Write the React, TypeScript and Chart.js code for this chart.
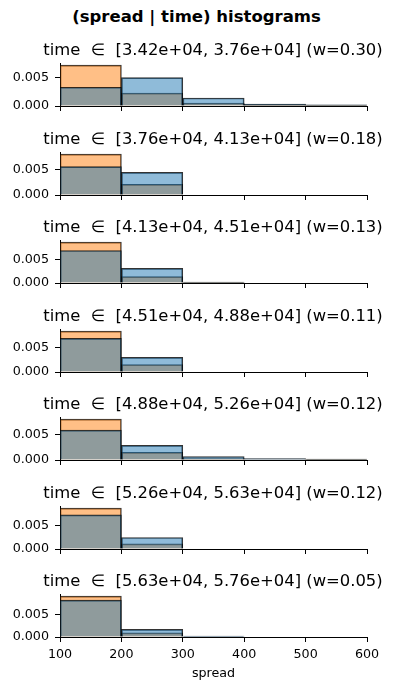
import React, { useEffect, useRef } from "react";
import { Chart, registerables } from "chart.js";

Chart.register(...registerables);
Chart.defaults.font.family = "DejaVu Sans";
Chart.defaults.color = "#000";

// ---- data ----
const binCenters = [150, 250, 350, 450, 550];
const xTicks = [100, 200, 300, 400, 500, 600];
const yTicks = [0, 0.005];
const panelTitles = [
  "time  \u2208  [3.42e+04, 3.76e+04] (w=0.30)",
  "time  \u2208  [3.76e+04, 4.13e+04] (w=0.18)",
  "time  \u2208  [4.13e+04, 4.51e+04] (w=0.13)",
  "time  \u2208  [4.51e+04, 4.88e+04] (w=0.11)",
  "time  \u2208  [4.88e+04, 5.26e+04] (w=0.12)",
  "time  \u2208  [5.26e+04, 5.63e+04] (w=0.12)",
  "time  \u2208  [5.63e+04, 5.76e+04] (w=0.05)",
];
const blueDensity = [
  [0.0033, 0.005, 0.0014, 0.00035, 0.0002],
  [0.0055, 0.0044, 0, 0, 0],
  [0.0069, 0.0031, 0.0002, 0, 0],
  [0.0069, 0.003, 0, 0, 0],
  [0.0059, 0.0029, 0.0007, 0.0003, 0.0002],
  [0.0074, 0.0025, 0, 0, 0],
  [0.0082, 0.0017, 0.0002, 0, 0],
];
const orangeDensity = [
  [0.0072, 0.00225, 0.0005, 0.00012, 0.00005],
  [0.00795, 0.00205, 0, 0, 0],
  [0.0087, 0.00135, 0.00005, 0, 0],
  [0.0084, 0.0015, 0, 0, 0],
  [0.0081, 0.0015, 0.0003, 0.0001, 0.00005],
  [0.0089, 0.0011, 0, 0, 0],
  [0.0091, 0.0009, 0, 0, 0],
];
const suptitle = "(spread | time) histograms";
const xLabel = "spread";

// ---- layout ----
const W = 393;
const AX_H = 43;
const TITLE_SPACE = 32;
const firstBottom = 106;
const step = 88.5;
const TICK_FONT = 12.7;

const panelTitlePlugin = {
  id: "panelTitle",
  afterDraw(chart: any, _args: any, opts: any) {
    const { ctx, chartArea } = chart;
    ctx.save();
    ctx.font = "16.4px 'DejaVu Sans'";
    ctx.fillStyle = "#000";
    ctx.textAlign = "center";
    ctx.textBaseline = "alphabetic";
    ctx.fillText(opts.text, (chartArea.left + chartArea.right) / 2 - 0.5, chartArea.top - 8);
    ctx.restore();
  },
};

function Panel({ index }: { index: number }) {
  const ref = useRef<HTMLCanvasElement>(null);
  const isLast = index === panelTitles.length - 1;
  const bottom = Math.round(firstBottom + step * index);
  const top = bottom - AX_H;
  const xh = isLast ? 48 : 6;
  const extra = isLast ? 0 : 8;
  const canvasTop = top - TITLE_SPACE;
  const H = TITLE_SPACE + AX_H + xh + extra;

  useEffect(() => {
    if (!ref.current) return;
    const blue = blueDensity[index];
    const orange = orangeDensity[index];
    const maxV = Math.max(...blue, ...orange);
    const barStyle = {
      borderColor: "rgba(0,0,0,0.8)",
      borderWidth: 1,
      borderSkipped: "start",
      grouped: false,
      barPercentage: 1,
      categoryPercentage: 1,
    };
    const chart = new Chart(ref.current, {
      type: "bar",
      data: {
        datasets: [
          {
            label: "blue",
            data: binCenters.map((x, j) => ({ x, y: blue[j] })),
            backgroundColor: "rgba(31,119,180,0.5)",
            ...barStyle,
          } as any,
          {
            label: "orange",
            data: binCenters.map((x, j) => ({ x, y: orange[j] })),
            backgroundColor: "rgba(255,127,14,0.5)",
            ...barStyle,
          } as any,
        ],
      },
      options: {
        animation: false,
        responsive: false,
        maintainAspectRatio: false,
        devicePixelRatio: 1,
        layout: { padding: { top: TITLE_SPACE, left: 0, right: 26, bottom: extra } },
        plugins: {
          legend: { display: false },
          tooltip: { enabled: false },
          title: { display: false },
          panelTitle: { text: panelTitles[index] },
        } as any,
        scales: {
          x: {
            type: "linear",
            min: 100,
            max: 600,
            offset: false,
            afterBuildTicks: (s: any) => {
              s.ticks = xTicks.map((v) => ({ value: v }));
            },
            afterFit: (s: any) => {
              s.height = xh;
              s.paddingLeft = 0;
              s.paddingRight = 0;
              s.paddingTop = 0;
              s.paddingBottom = 0;
            },
            ticks: {
              display: isLast,
              font: { size: TICK_FONT },
              color: "#000",
              padding: 5,
              maxRotation: 0,
              autoSkip: false,
            },
            grid: {
              display: true,
              drawOnChartArea: false,
              drawTicks: true,
              tickLength: 5,
              color: "#000",
              offset: false,
            },
            border: { display: true, color: "#000", width: 1 },
            title: {
              display: isLast,
              text: xLabel,
              font: { size: TICK_FONT },
              color: "#000",
              padding: { top: 4, bottom: 4 },
            },
          },
          y: {
            type: "linear",
            min: 0,
            max: maxV * 1.05,
            afterBuildTicks: (s: any) => {
              s.ticks = yTicks.map((v) => ({ value: v }));
            },
            afterFit: (s: any) => {
              s.width = 60;
              s.paddingTop = 0;
              s.paddingBottom = 0;
              s.paddingLeft = 0;
              s.paddingRight = 0;
            },
            ticks: {
              font: { size: TICK_FONT },
              color: "#000",
              padding: 6,
              callback: (v: any) => Number(v).toFixed(3),
            },
            grid: {
              display: true,
              drawOnChartArea: false,
              drawTicks: true,
              tickLength: 5,
              color: "#000",
            },
            border: { display: true, color: "#000", width: 1 },
          },
        },
      } as any,
      plugins: [panelTitlePlugin],
    });
    return () => chart.destroy();
  }, [index]);

  return (
    <div style={{ position: "absolute", left: 0, top: canvasTop, width: W, height: H }}>
      <canvas ref={ref} width={W} height={H} style={{ width: W, height: H, display: "block" }} />
    </div>
  );
}

export default function App() {
  return (
    <div
      style={{
        position: "absolute",
        left: 0,
        top: 0,
        width: W,
        height: 690,
        background: "#fff",
        overflow: "hidden",
      }}
    >
      <div
        style={{
          position: "absolute",
          left: 0,
          top: 7,
          width: W,
          textAlign: "center",
          fontFamily: "'DejaVu Sans'",
          fontWeight: "bold",
          fontSize: "16.5px",
          lineHeight: "20px",
          color: "#000",
        }}
      >
        {suptitle}
      </div>
      {panelTitles.map((_, i) => (
        <Panel key={i} index={i} />
      ))}
    </div>
  );
}
